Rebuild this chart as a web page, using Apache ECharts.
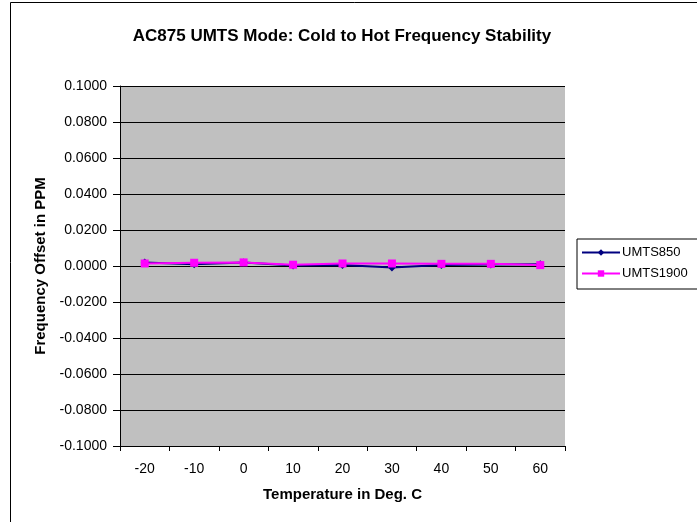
<!DOCTYPE html>
<html><head><meta charset="utf-8">
<script src="https://cdn.jsdelivr.net/npm/echarts@6/dist/echarts.min.js"></script>
<style>html,body{margin:0;padding:0;background:#fff}#c{width:697px;height:522px}</style>
</head><body><div id="c"></div>
<script>
var categories = ['-20','-10','0','10','20','30','40','50','60'];
var umts850 = [0.0020, 0.0010, 0.0020, 0.0003, 0.0005, -0.0008, 0.0005, 0.0008, 0.0010];
var umts1900 = [0.0014, 0.0018, 0.0020, 0.0007, 0.0014, 0.0014, 0.0012, 0.0012, 0.0005];
var yTicks = {min: -0.1, max: 0.1, interval: 0.02};

var chart = echarts.init(document.getElementById('c'), null, {renderer:'canvas'});
var font = 'Liberation Sans, Arial, sans-serif';
chart.setOption({
  animation: false,
  backgroundColor: '#fff',
  title: {
    text: 'AC875 UMTS Mode: Cold to Hot Frequency Stability',
    left: 337, top: 23, textAlign: 'center',
    textStyle: {fontFamily: font, fontSize: 17, fontWeight: 'bold', color: '#000'}
  },
  graphic: [{
    type: 'rect', shape: {x: 10.5, y: 2.5, width: 690, height: 530},
    style: {fill: 'none', stroke: '#000', lineWidth: 1}, silent: true, z: -1
  }],
  legend: {
    orient: 'vertical', left: 577, top: 239,
    itemWidth: 38, itemHeight: 8, itemGap: 8,
    padding: [7, 30, 9, 4],
    borderColor: '#000', borderWidth: 1,
    textStyle: {fontFamily: font, fontSize: 13, color: '#000', padding: [0,0,0,-3]},
    data: ['UMTS850', 'UMTS1900']
  },
  grid: {left: 120, right: 132, top: 86, bottom: 76, show: true, backgroundColor: '#C0C0C0', borderWidth: 0},
  xAxis: {
    type: 'category', data: categories, boundaryGap: true,
    name: 'Temperature in Deg. C', nameLocation: 'middle', nameGap: 41,
    nameTextStyle: {fontFamily: font, fontSize: 15, fontWeight: 'bold', color: '#000'},
    axisLine: {onZero: false, lineStyle: {color: '#000', width: 1}},
    axisTick: {show: true, inside: false, length: 5, alignWithLabel: false, lineStyle: {color: '#000'}},
    axisLabel: {fontFamily: font, fontSize: 14, color: '#000', margin: 16},
    splitLine: {show: false}
  },
  yAxis: {
    type: 'value', min: yTicks.min, max: yTicks.max, interval: yTicks.interval,
    name: 'Frequency Offset in PPM', nameLocation: 'middle', nameGap: 72, nameRotate: 90,
    nameTextStyle: {fontFamily: font, fontSize: 15, fontWeight: 'bold', color: '#000'},
    axisLine: {show: true, lineStyle: {color: '#000', width: 1}},
    axisTick: {show: true, length: 7, lineStyle: {color: '#000'}},
    axisLabel: {fontFamily: font, fontSize: 14, color: '#000', margin: 13,
      formatter: function(v){ return (Math.abs(v) < 1e-9 ? 0 : v).toFixed(4); }},
    splitLine: {show: true, lineStyle: {color: '#000', width: 1}}
  },
  series: [{
    name: 'UMTS850', type: 'line', data: umts850,
    symbol: 'diamond', symbolSize: 8,
    itemStyle: {color: '#000080'}, lineStyle: {color: '#000080', width: 2}
  }, {
    name: 'UMTS1900', type: 'line', data: umts1900,
    symbol: 'rect', symbolSize: 8,
    itemStyle: {color: '#FF00FF'}, lineStyle: {color: '#FF00FF', width: 2}
  }]
});
</script></body></html>
